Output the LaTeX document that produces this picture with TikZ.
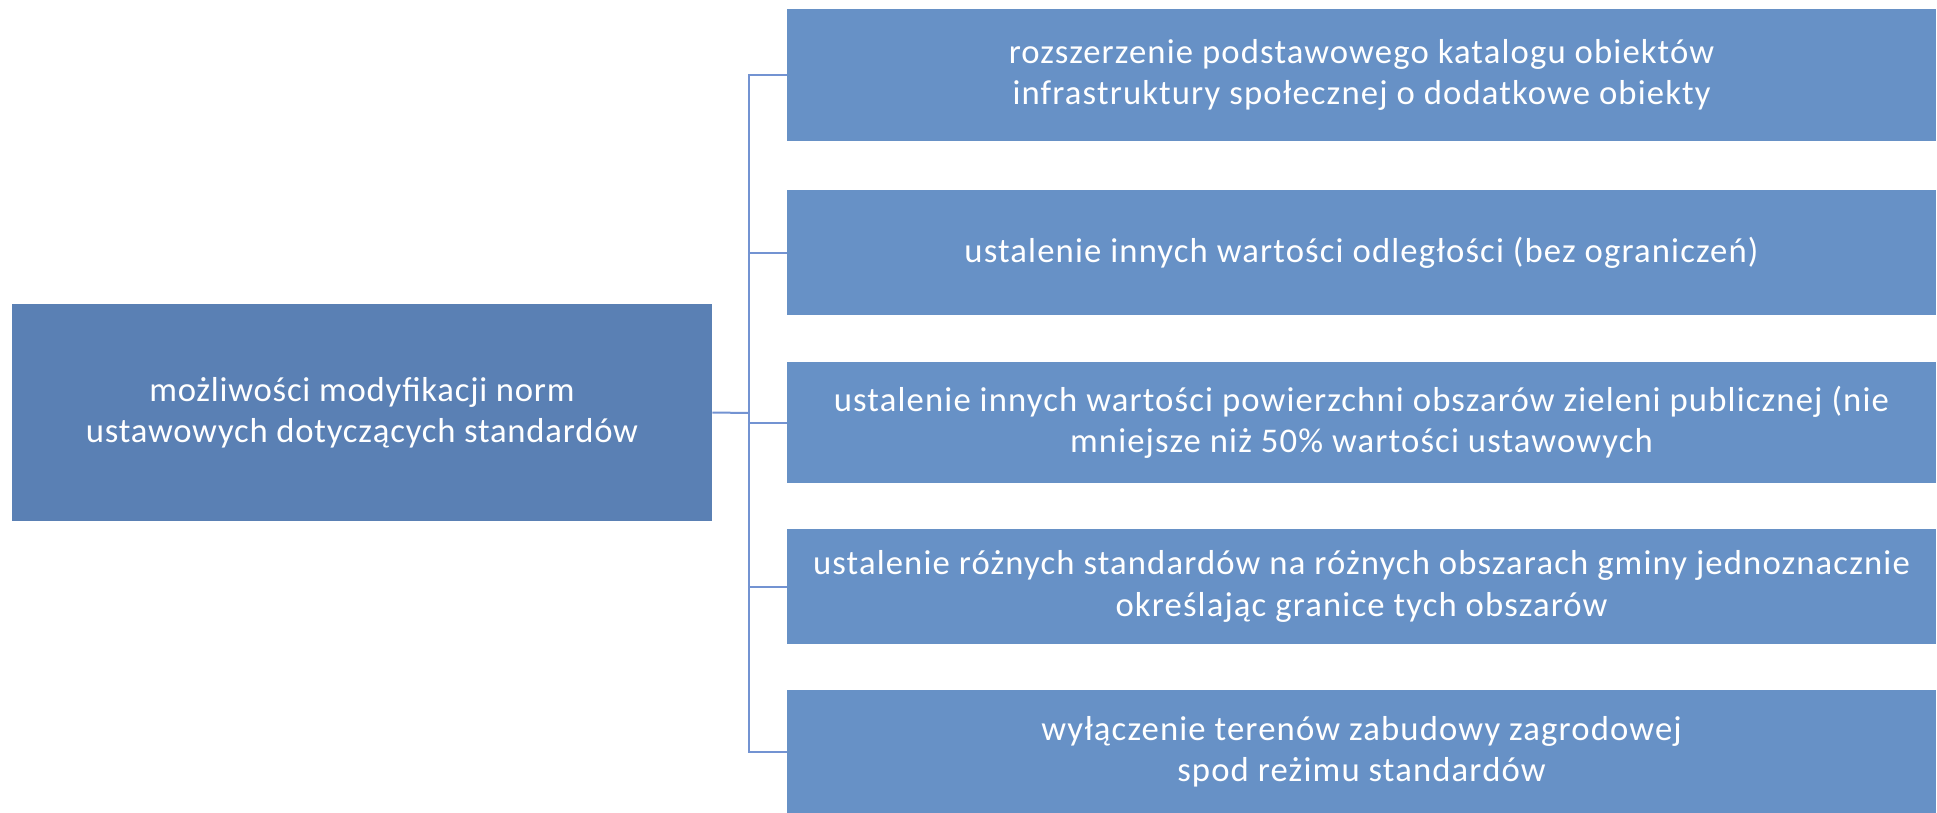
\documentclass[tikz,border=0pt]{standalone}
\usepackage{fontspec}
\setmainfont{Carlito}
\usepackage{tikz}
\usetikzlibrary{positioning}

\definecolor{rootblue}{HTML}{5A80B4}
\definecolor{itemblue}{HTML}{6791C6}
\definecolor{lineblue}{HTML}{7393D2}

\tikzset{
  rootbox/.style={fill=rootblue, text=white, inner sep=0pt, align=center,
    minimum width=525pt, minimum height=162.75pt,
    font=\fontsize{26}{31}\selectfont\addfontfeatures{LetterSpace=2.3}},
  itembox/.style={fill=itemblue, text=white, inner sep=0pt, align=center,
    minimum width=861.75pt,
    font=\fontsize{26}{31}\selectfont\addfontfeatures{LetterSpace=3.3}},
  link/.style={draw=lineblue, line width=1.5pt}
}

\begin{document}
\begin{tikzpicture}[x=0.75pt,y=0.75pt,yscale=-1,xscale=1]
\useasboundingbox (0,0) rectangle (1937,813);

% Root
\node [rootbox] (root) at (362,412.5) {możliwości modyfikacji norm\\ustawowych dotyczących standardów};

% Items
\node [itembox, minimum height=99pt] (b1) at (1361.5,75) {rozszerzenie podstawowego katalogu obiektów\\infrastruktury społecznej o dodatkowe obiekty};
\node [itembox, minimum height=93.75pt] (b2) at (1361.5,252.5) {ustalenie innych wartości odległości (bez ograniczeń)};
\node [itembox, minimum height=90.75pt] (b3) at (1361.5,422.5) {ustalenie innych wartości powierzchni obszarów zieleni publicznej (nie\\mniejsze niż 50\% wartości ustawowych};
\node [itembox, minimum height=86.25pt] (b4) at (1361.5,586.5) {ustalenie różnych standardów na różnych obszarach gminy jednoznacznie\\określając granice tych obszarów};
\node [itembox, minimum height=92.25pt] (b5) at (1361.5,751.5) {wyłączenie terenów zabudowy zagrodowej\\spod reżimu standardów};

% Connectors
\coordinate (bus) at (749,413);
\draw [link] (root.east) -- (bus);
\draw [link] (bus) |- (b1.west);
\draw [link] (bus) |- (b2.west);
\draw [link] (bus) |- (b3.west);
\draw [link] (bus) |- (b4.west);
\draw [link] (bus) |- (b5.west);

\end{tikzpicture}
\end{document}
